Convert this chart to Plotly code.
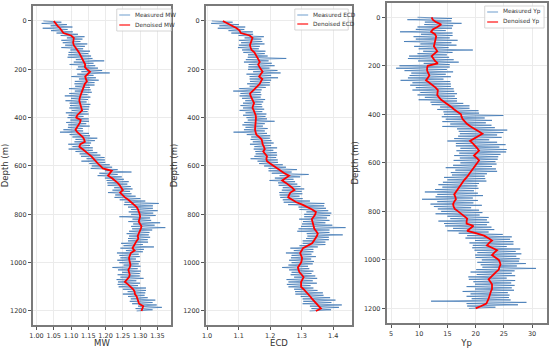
import plotly.graph_objects as go

# ---------------- data ----------------
depth_meas = list(range(0, 1201, 5))
depth_den = list(range(0, 1201, 10))

mw_measured = [
    1.020,1.072,1.015,1.088,1.041,1.104,1.018,1.090,1.042,1.105,
    1.058,1.120,1.070,1.139,1.088,1.133,1.072,1.127,1.076,1.147,
    1.083,1.140,1.072,1.135,1.098,1.155,1.093,1.150,1.092,1.158,
    1.090,1.162,1.114,1.196,1.108,1.165,1.096,1.170,1.120,1.178,
    1.116,1.190,1.130,1.212,1.118,1.165,1.101,1.172,1.123,1.180,
    1.111,1.168,1.110,1.168,1.112,1.155,1.094,1.157,1.111,1.160,
    1.095,1.148,1.082,1.156,1.100,1.149,1.084,1.145,1.096,1.156,
    1.097,1.153,1.095,1.151,1.102,1.148,1.085,1.151,1.093,1.136,
    1.090,1.151,1.098,1.152,1.086,1.144,1.092,1.154,1.091,1.134,
    1.078,1.135,1.068,1.152,1.096,1.155,1.104,1.176,1.113,1.169,
    1.110,1.158,1.092,1.155,1.104,1.163,1.093,1.163,1.113,1.176,
    1.125,1.185,1.129,1.197,1.145,1.198,1.130,1.199,1.153,1.212,
    1.160,1.219,1.157,1.235,1.198,1.275,1.182,1.235,1.177,1.247,
    1.198,1.253,1.203,1.267,1.205,1.263,1.206,1.273,1.225,1.278,
    1.220,1.271,1.207,1.275,1.228,1.287,1.226,1.301,1.241,1.315,
    1.255,1.354,1.253,1.337,1.265,1.337,1.274,1.351,1.267,1.338,
    1.274,1.345,1.240,1.329,1.278,1.332,1.266,1.358,1.280,1.342,
    1.274,1.373,1.277,1.335,1.268,1.327,1.261,1.325,1.268,1.329,
    1.265,1.322,1.265,1.323,1.245,1.308,1.252,1.340,1.243,1.311,
    1.259,1.308,1.233,1.296,1.240,1.299,1.243,1.288,1.234,1.300,
    1.240,1.296,1.252,1.301,1.220,1.293,1.236,1.302,1.248,1.299,
    1.235,1.299,1.243,1.310,1.232,1.289,1.236,1.300,1.235,1.294,
    1.238,1.317,1.250,1.317,1.264,1.315,1.250,1.313,1.265,1.322,
    1.273,1.344,1.270,1.336,1.277,1.348,1.294,1.363,1.287,1.336,
    1.290,
]

mw_denoised = [
    1.050,1.055,1.061,1.068,1.072,1.078,1.100,1.108,1.107,1.106,
    1.108,1.112,1.118,1.123,1.127,1.130,1.134,1.138,1.141,1.140,
    1.146,1.155,1.148,1.141,1.143,1.146,1.140,1.137,1.134,1.131,
    1.130,1.127,1.125,1.124,1.126,1.127,1.130,1.132,1.125,1.118,
    1.115,1.128,1.126,1.122,1.116,1.113,1.118,1.126,1.134,1.138,
    1.140,1.127,1.124,1.133,1.143,1.150,1.159,1.165,1.170,1.178,
    1.185,1.192,1.218,1.212,1.207,1.218,1.228,1.235,1.241,1.245,
    1.250,1.242,1.248,1.256,1.266,1.275,1.283,1.290,1.294,1.297,
    1.299,1.300,1.298,1.296,1.300,1.304,1.302,1.298,1.296,1.293,
    1.295,1.290,1.285,1.282,1.278,1.284,1.273,1.270,1.268,1.269,
    1.270,1.272,1.270,1.266,1.268,1.270,1.268,1.262,1.256,1.265,
    1.273,1.280,1.284,1.285,1.290,1.293,1.295,1.297,1.309,1.307,
    1.304,
]

ecd_measured = [
    1.015,1.081,1.013,1.101,1.039,1.121,1.034,1.118,1.068,1.145,
    1.077,1.146,1.100,1.180,1.119,1.172,1.101,1.175,1.108,1.182,
    1.101,1.167,1.098,1.164,1.111,1.185,1.115,1.183,1.130,1.192,
    1.129,1.251,1.123,1.195,1.117,1.205,1.132,1.214,1.131,1.198,
    1.130,1.223,1.146,1.233,1.125,1.203,1.135,1.225,1.135,1.203,
    1.136,1.199,1.127,1.199,1.135,1.186,1.102,1.173,1.083,1.170,
    1.106,1.172,1.103,1.170,1.111,1.184,1.121,1.178,1.114,1.173,
    1.106,1.175,1.114,1.181,1.103,1.175,1.122,1.188,1.114,1.185,
    1.125,1.190,1.129,1.214,1.118,1.183,1.112,1.177,1.122,1.192,
    1.117,1.183,1.084,1.190,1.126,1.200,1.140,1.199,1.138,1.204,
    1.145,1.211,1.136,1.203,1.150,1.222,1.148,1.210,1.153,1.221,
    1.154,1.222,1.150,1.219,1.138,1.224,1.160,1.225,1.165,1.240,
    1.181,1.250,1.195,1.285,1.195,1.268,1.205,1.322,1.230,1.295,
    1.215,1.274,1.198,1.279,1.225,1.286,1.227,1.296,1.240,1.308,
    1.237,1.300,1.229,1.302,1.230,1.293,1.232,1.303,1.240,1.326,
    1.243,1.372,1.257,1.371,1.290,1.377,1.293,1.384,1.315,1.394,
    1.308,1.390,1.308,1.380,1.292,1.388,1.304,1.375,1.301,1.397,
    1.298,1.439,1.290,1.388,1.286,1.388,1.316,1.430,1.318,1.386,
    1.314,1.386,1.303,1.375,1.303,1.375,1.293,1.351,1.264,1.337,
    1.275,1.337,1.250,1.331,1.268,1.345,1.266,1.330,1.260,1.339,
    1.268,1.335,1.258,1.320,1.238,1.324,1.260,1.337,1.268,1.331,
    1.265,1.343,1.276,1.349,1.252,1.335,1.258,1.348,1.253,1.328,
    1.258,1.337,1.276,1.350,1.279,1.367,1.280,1.369,1.297,1.390,
    1.303,1.407,1.305,1.394,1.303,1.427,1.326,1.418,1.331,1.393,
    1.325,
]

ecd_denoised = [
    1.050,1.063,1.079,1.094,1.103,1.107,1.135,1.144,1.141,1.138,
    1.136,1.138,1.141,1.150,1.155,1.159,1.163,1.167,1.162,1.166,
    1.170,1.176,1.170,1.165,1.175,1.171,1.167,1.160,1.152,1.143,
    1.136,1.138,1.141,1.146,1.149,1.146,1.144,1.148,1.152,1.154,
    1.155,1.154,1.153,1.152,1.152,1.152,1.154,1.156,1.165,1.173,
    1.175,1.176,1.180,1.183,1.178,1.184,1.190,1.188,1.190,1.200,
    1.211,1.220,1.230,1.245,1.260,1.250,1.238,1.250,1.262,1.270,
    1.277,1.264,1.260,1.257,1.270,1.283,1.302,1.320,1.333,1.345,
    1.343,1.338,1.332,1.334,1.336,1.338,1.340,1.346,1.351,1.348,
    1.344,1.338,1.333,1.318,1.304,1.300,1.295,1.298,1.301,1.300,
    1.298,1.293,1.288,1.290,1.293,1.300,1.306,1.302,1.298,1.298,
    1.298,1.306,1.314,1.320,1.327,1.333,1.340,1.348,1.356,1.361,
    1.345,
]

yp_measured = [
    9.7,15.8,7.9,15.7,11.0,17.5,10.9,16.0,9.7,15.8,
    9.4,14.7,6.6,15.9,10.3,15.9,9.0,15.4,9.4,16.8,
    7.3,15.7,10.2,16.6,9.1,15.2,9.9,19.5,10.7,15.9,
    9.7,14.9,8.2,15.3,8.0,16.1,9.8,17.0,10.8,15.4,
    6.5,15.4,5.9,14.9,7.4,16.0,8.6,14.7,8.3,15.6,
    8.0,14.3,6.7,15.5,8.8,15.6,8.4,15.6,9.4,16.1,
    8.8,16.2,10.2,16.7,9.7,16.3,11.0,16.7,9.9,16.7,
    12.0,17.8,12.2,18.9,13.7,18.9,13.2,20.5,14.3,20.6,
    14.4,24.9,14.0,21.6,14.7,22.9,14.1,21.8,15.5,22.8,
    14.1,23.4,16.7,25.6,17.0,24.9,17.2,23.8,16.9,24.6,
    16.2,22.4,15.0,23.8,16.5,25.3,16.5,24.2,17.3,25.5,
    16.6,25.4,17.1,24.4,16.2,24.0,17.2,23.9,16.1,23.5,
    17.3,23.7,16.0,22.9,14.7,23.6,16.4,23.8,15.6,22.0,
    15.8,21.6,14.4,21.7,15.0,21.9,14.2,20.6,13.4,20.3,
    14.1,20.5,12.8,19.7,11.0,20.4,13.2,21.3,12.9,19.5,
    10.5,20.4,13.2,19.6,12.0,21.1,12.6,19.2,13.3,20.6,
    13.9,21.2,12.9,20.7,15.0,22.3,15.5,22.0,13.4,22.4,
    14.4,22.0,14.6,22.8,16.0,23.3,15.0,22.3,17.0,24.8,
    18.5,26.4,18.2,26.1,19.9,26.7,18.9,26.7,19.5,25.5,
    19.4,27.9,19.8,27.1,20.3,28.1,19.9,27.2,20.0,27.8,
    21.1,27.7,20.3,28.9,20.9,27.3,21.2,30.7,20.1,26.9,
    19.1,26.4,20.2,27.0,18.7,25.5,18.8,27.0,19.6,26.3,
    19.9,26.9,18.4,26.4,19.9,26.8,17.7,25.7,19.1,26.0,
    18.4,25.9,19.3,26.2,12.1,29.0,18.4,27.5,18.5,23.5,
    18.8,
]

yp_denoised = [
    12.2,12.4,13.0,13.9,13.2,12.4,12.1,12.8,13.0,12.9,
    12.8,12.7,12.6,12.9,13.2,12.7,12.2,12.5,12.8,13.3,
    11.5,11.4,11.4,11.6,11.8,11.5,11.2,11.8,12.4,12.9,
    13.3,13.2,13.2,13.5,13.9,14.5,15.2,15.7,16.2,16.8,
    17.4,17.5,17.7,18.1,18.5,19.1,19.7,20.5,21.2,20.4,
    19.7,19.0,19.5,20.0,20.3,20.6,20.1,19.7,20.2,20.6,
    20.3,20.0,19.7,19.4,19.1,18.8,18.4,18.0,17.7,17.4,
    17.1,16.8,16.5,16.2,16.4,16.5,16.2,16.0,16.1,16.3,
    16.9,17.4,18.0,18.5,18.4,18.4,19.6,19.0,18.5,20.0,
    21.5,22.2,22.9,22.4,22.0,22.9,23.8,23.3,22.9,23.5,
    24.1,24.3,24.4,24.2,24.1,23.6,23.2,22.7,22.3,22.6,
    22.9,22.9,22.9,22.7,22.6,22.4,22.3,22.1,21.9,21.0,
    20.0,
]

panels = [
    ("MW", mw_measured, mw_denoised),
    ("ECD", ecd_measured, ecd_denoised),
    ("Yp", yp_measured, yp_denoised),
]

x_ticks = [
    [1.00, 1.05, 1.10, 1.15, 1.20, 1.25, 1.30, 1.35],
    [1.0, 1.1, 1.2, 1.3, 1.4],
    [5, 10, 15, 20, 25, 30],
]
x_tick_text = [
    ["1.00", "1.05", "1.10", "1.15", "1.20", "1.25", "1.30", "1.35"],
    ["1.0", "1.1", "1.2", "1.3", "1.4"],
    ["5", "10", "15", "20", "25", "30"],
]
y_ticks = [0, 200, 400, 600, 800, 1000, 1200]

# ---------------- layout / styling ----------------
W, H = 550, 348
x_dom = [[27 / W, 167 / W], [202 / W, 350 / W], [384.7 / W, 546.7 / W]]
y_dom = [[1 - 325 / H, 1 - 6 / H], [1 - 325 / H, 1 - 6 / H], [1 - 323 / H, 1 - 2.7 / H]]
x_rng = [[0.989, 1.39], [0.996, 1.46], [4.2, 32.6]]
y_rng = [[1258, -62], [1258, -62], [1260, -60]]
# legend boxes in pixels: (left, right, top, bottom, row1_y, row2_y)
leg_box = [(112, 167, 9, 31, 15, 25), (292, 346, 9, 30, 15, 24), (484, 544, 6, 28, 12, 22)]

FONT = "DejaVu Sans"
blue = "rgba(50,110,175,0.68)"
blue_leg = "#8fb3d9"
red = "#ff0000"
red_leg = "#ff4040"
TXT = "#333333"

fig = go.Figure()
layout = dict(
    width=W, height=H,
    margin=dict(l=0, r=0, t=0, b=0),
    paper_bgcolor="white", plot_bgcolor="white",
    font=dict(family=FONT, size=7, color=TXT),
    showlegend=False,
)
shapes = []
annotations = []

def px(x):
    return x / W

def py(y):
    return 1 - y / H

for i, (name, meas, den) in enumerate(panels):
    k = "" if i == 0 else str(i + 1)
    fig.add_trace(go.Scatter(
        x=meas, y=depth_meas, mode="lines", name=f"Measured {name}",
        line=dict(color=blue, width=1), xaxis="x" + k, yaxis="y" + k,
    ))
    fig.add_trace(go.Scatter(
        x=den, y=depth_den, mode="lines", name=f"Denoised {name}",
        line=dict(color=red, width=1.8), xaxis="x" + k, yaxis="y" + k,
    ))
    axis_common = dict(
        showline=True, linecolor="#7a7a7a", linewidth=1.5, mirror=True,
        showgrid=True, gridcolor="#ebebeb", gridwidth=0.8,
        ticks="outside", ticklen=3, tickcolor="#555555", tickwidth=0.8,
        zeroline=False, tickfont=dict(size=6.5, family=FONT, color=TXT),
    )
    layout["xaxis" + k] = dict(
        axis_common, domain=x_dom[i], range=x_rng[i], anchor="y" + k,
        tickvals=x_ticks[i], ticktext=x_tick_text[i],
        title=dict(text=name, font=dict(size=8.5, family=FONT, color=TXT), standoff=2),
    )
    layout["yaxis" + k] = dict(
        axis_common, domain=y_dom[i], range=y_rng[i], anchor="x" + k,
        tickvals=y_ticks, ticktext=[str(v) for v in y_ticks],
        title=dict(text="Depth (m)", font=dict(size=8.5, family=FONT, color=TXT), standoff=4),
    )
    # legend box (decoration, drawn in paper pixels)
    l, r, t, b, r1, r2 = leg_box[i]
    shapes.append(dict(type="rect", xref="paper", yref="paper",
                       x0=px(l), x1=px(r), y0=py(b), y1=py(t),
                       line=dict(color="#cccccc", width=0.8), fillcolor="rgba(255,255,255,0.85)"))
    for ry, col, lw, label in ((r1, blue_leg, 1.3, f"Measured {name}"),
                               (r2, red_leg, 1.5, f"Denoised {name}")):
        shapes.append(dict(type="line", xref="paper", yref="paper",
                           x0=px(l + 2.5), x1=px(l + 13.5), y0=py(ry), y1=py(ry),
                           line=dict(color=col, width=lw)))
        annotations.append(dict(xref="paper", yref="paper", x=px(l + 16), y=py(ry),
                                xanchor="left", yanchor="middle", showarrow=False,
                                text=label, font=dict(size=5.8, family=FONT, color=TXT)))

layout["shapes"] = shapes
layout["annotations"] = annotations
fig.update_layout(**layout)
fig.write_html("out.html", config={"displayModeBar": False},
               post_script="document.body.style.margin='0';")
